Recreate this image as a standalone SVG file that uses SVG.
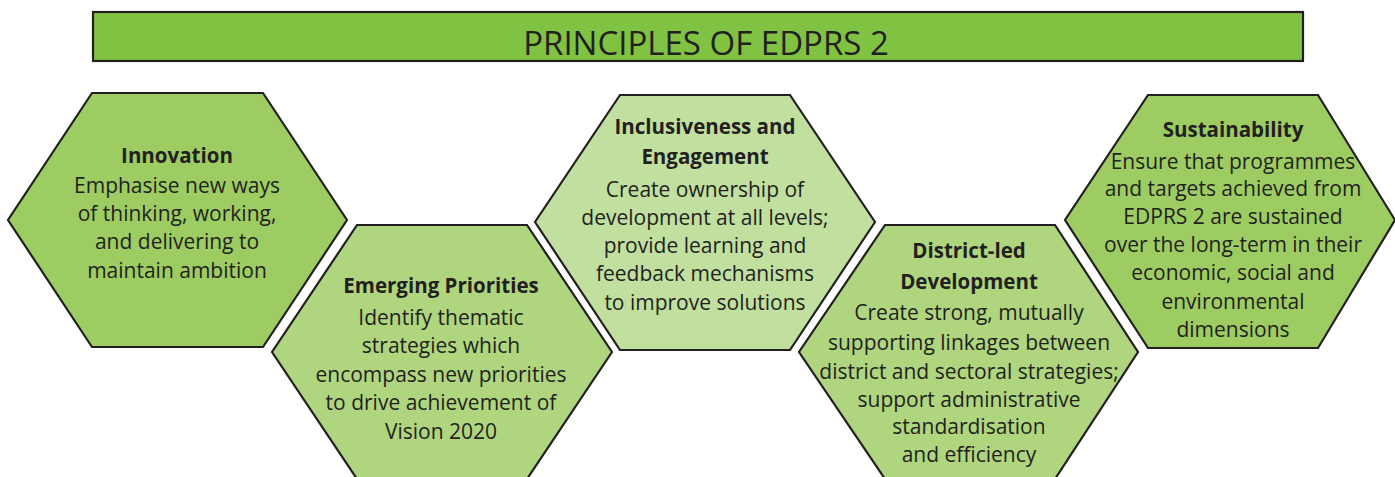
<svg xmlns="http://www.w3.org/2000/svg" width="1395" height="477" viewBox="0 0 1395 477">
<style>
.hex{stroke:#231f20;stroke-width:2.2;stroke-linejoin:miter}
.h1{fill:#9dcd62}.h2{fill:#afd67e}.h3{fill:#c1e09f}
text{font-family:"Open Sans","Noto Sans",sans-serif;fill:#231f20;text-anchor:middle}
.t{font-weight:bold;font-size:20.5px}
.b{font-size:21px}
.title{font-size:33px}
</style>
<rect width="1395" height="477" fill="#ffffff"/>
<g id="title">
<rect x="93" y="12" width="1210" height="49" fill="#80c241" stroke="#231f20" stroke-width="2.2"/>
<text class="title" x="706" y="55">PRINCIPLES OF EDPRS 2</text>
</g>
<g id="innovation">
<polygon class="hex h1" points="92,93 263,93 347,220 263,347 92,347 8,220"/>
<text class="t" x="177" y="163">Innovation</text>
<text class="b" x="177" y="193">Emphasise new ways</text>
<text class="b" x="177" y="221">of thinking, working,</text>
<text class="b" x="177" y="249">and delivering to</text>
<text class="b" x="177" y="278">maintain ambition</text>
</g>
<g id="emerging">
<polygon class="hex h2" points="357,225 527,225 612,352 527,479 357,479 272,352"/>
<text class="t" x="441" y="293">Emerging Priorities</text>
<text class="b" x="441" y="325">Identify thematic</text>
<text class="b" x="441" y="353">strategies which</text>
<text class="b" x="441" y="382">encompass new priorities</text>
<text class="b" x="441" y="410">to drive achievement of</text>
<text class="b" x="441" y="439">Vision 2020</text>
</g>
<g id="inclusiveness">
<polygon class="hex h3" points="620,95 790,95 875,222 790,350 620,350 535,222"/>
<text class="t" x="705" y="134">Inclusiveness and</text>
<text class="t" x="705" y="164">Engagement</text>
<text class="b" x="705" y="197">Create ownership of</text>
<text class="b" x="705" y="225">development at all levels;</text>
<text class="b" x="705" y="253">provide learning and</text>
<text class="b" x="705" y="281">feedback mechanisms</text>
<text class="b" x="705" y="310">to improve solutions</text>
</g>
<g id="district">
<polygon class="hex h2" points="885,225 1055,225 1138,352 1055,479 885,479 799,352"/>
<text class="t" x="969" y="258">District-led</text>
<text class="t" x="969" y="289">Development</text>
<text class="b" x="969" y="320">Create strong, mutually</text>
<text class="b" x="969" y="350">supporting linkages between</text>
<text class="b" x="969" y="379">district and sectoral strategies;</text>
<text class="b" x="969" y="407">support administrative</text>
<text class="b" x="969" y="434">standardisation</text>
<text class="b" x="969" y="462">and efficiency</text>
</g>
<g id="sustainability">
<polygon class="hex h1" points="1148,95 1318,95 1395,220 1318,348 1148,348 1065,220"/>
<text class="t" x="1233" y="137">Sustainability</text>
<text class="b" x="1233" y="169">Ensure that programmes</text>
<text class="b" x="1233" y="196">and targets achieved from</text>
<text class="b" x="1233" y="224">EDPRS 2 are sustained</text>
<text class="b" x="1233" y="252">over the long-term in their</text>
<text class="b" x="1233" y="280">economic, social and</text>
<text class="b" x="1233" y="309">environmental</text>
<text class="b" x="1233" y="337">dimensions</text>
</g>
<g id="connectors"></g>
</svg>
